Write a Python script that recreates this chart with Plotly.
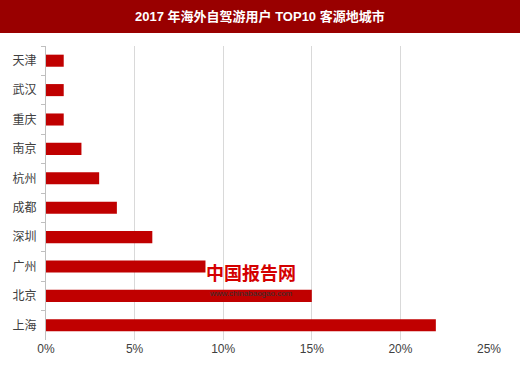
import plotly.graph_objects as go

cities = ["天津", "武汉", "重庆", "南京", "杭州", "成都", "深圳", "广州", "北京", "上海"]
values = [1, 1, 1, 2, 3, 4, 6, 9, 15, 22]
x_ticks = [0, 5, 10, 15, 20, 25]
x_tick_labels = ["0%", "5%", "10%", "15%", "20%", "25%"]
title_text = "2017 年海外自驾游用户 TOP10 客源地城市"

font_family = "Liberation Sans, Noto Sans CJK SC, Arial, sans-serif"

L, R, T, B = 46, 31, 46, 25
PW, PH = 520 - L - R, 365 - T - B

fig = go.Figure(go.Bar(
    x=values, y=cities, orientation="h",
    marker=dict(color="#C00000", line=dict(width=0)),
    width=0.41,
))

fig.update_layout(
    width=520, height=365,
    margin=dict(l=L, r=R, t=T, b=B, autoexpand=False),
    paper_bgcolor="white", plot_bgcolor="white",
    showlegend=False,
    font=dict(family=font_family, size=12, color="#404040"),
    xaxis=dict(range=[0, 25], tickvals=x_ticks, ticktext=x_tick_labels,
               showgrid=True, gridcolor="#D9D9D9", gridwidth=1,
               zeroline=False, showline=False, ticks="", automargin=False,
               tickfont=dict(size=12, color="#404040")),
    yaxis=dict(autorange="reversed", categoryorder="array", categoryarray=cities,
               showline=True, linecolor="#BFBFBF", linewidth=1,
               ticks="outside", ticklen=4, tickcolor="#BFBFBF",
               tickson="boundaries", showgrid=False, automargin=False,
               tickfont=dict(size=12, color="#404040"), ticklabelstandoff=6),
    shapes=[dict(type="rect", xref="paper", yref="paper",
                 x0=-L/PW, x1=1+R/PW, y0=1+(T-33)/PH, y1=1+T/PH,
                 fillcolor="#990000", line=dict(width=0), layer="below")],
    annotations=[
        dict(text="<b>" + title_text + "</b>", xref="paper", yref="paper",
             x=(260-L)/PW, y=1+(T-16)/PH, showarrow=False,
             font=dict(size=13, color="white", family=font_family),
             xanchor="center", yanchor="middle"),
        dict(text="<b>中国报告网</b>", xref="paper", yref="paper",
             x=(204-L)/PW, y=(340-274)/PH, showarrow=False,
             font=dict(size=18, color="#D40000", family=font_family),
             xanchor="left", yanchor="middle"),
        dict(text="www.chinabaogao.com", xref="paper", yref="paper",
             x=(207-L)/PW, y=(340-293)/PH, showarrow=False,
             font=dict(size=8, color="#333333", family="Liberation Sans, Arial"),
             xanchor="left", yanchor="middle"),
    ],
)

fig.write_html("out.html", config={"displayModeBar": False},
               post_script="document.body.style.margin='0';document.body.style.padding='0';document.body.style.overflow='hidden';")
